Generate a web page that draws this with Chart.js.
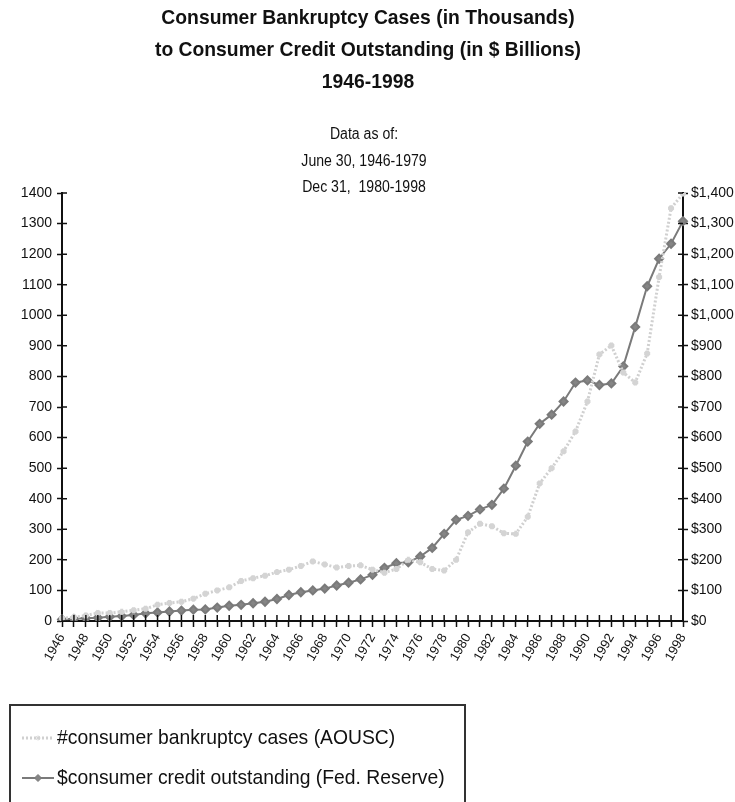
<!DOCTYPE html>
<html>
<head>
<meta charset="utf-8">
<script src="https://cdn.jsdelivr.net/npm/chart.js@4.4.1/dist/chart.umd.min.js"></script>
<style>
  html, body { margin: 0; padding: 0; background: #fff; }
  #wrap { width: 735px; height: 802px; }
</style>
</head>
<body>
<div id="wrap"><canvas id="my-chart" width="735" height="802"></canvas></div>
<script>
const years = [];
for (let y = 1946; y <= 1998; y++) years.push(String(y));

// consumer bankruptcy cases, thousands (AOUSC)
const bankruptcyCases = [
  9, 12, 18, 26, 26, 30, 35, 40, 53, 59,
  63, 73, 89, 100, 110, 131, 140, 148, 160, 168,
  180, 195, 185, 175, 180, 182, 168, 158, 170, 200,
  192, 170, 165, 200, 290, 318, 310, 287, 285, 341,
  450, 500, 555, 620, 718, 872, 901, 813, 780, 875,
  1125, 1350, 1398
];

// consumer credit outstanding, $ billions (Fed. Reserve)
const creditOutstanding = [
  5, 7, 9, 11, 14, 16, 20, 25, 28, 31,
  34, 37, 38, 44, 50, 53, 58, 63, 72, 85,
  94, 100, 106, 116, 125, 136, 151, 174, 189, 192,
  211, 239, 285, 331, 344, 365, 380, 433, 508, 587,
  645, 675, 718, 780, 787, 772, 777, 833, 962, 1095,
  1185, 1234, 1308
];

const titleLines = [
  "Consumer Bankruptcy Cases (in Thousands)",
  "to Consumer Credit Outstanding (in $ Billions)",
  "1946-1998"
];
const noteLines = ["Data as of:", "June 30, 1946-1979", "Dec 31,  1980-1998"];

const FONT = "'Liberation Sans', Arial, sans-serif";

// draw text squeezed horizontally (narrow face look)
function narrowText(ctx, text, x, y, sx) {
  ctx.save();
  ctx.translate(x, y);
  ctx.scale(sx, 1);
  ctx.fillText(text, 0, 0);
  ctx.restore();
}

const headerText = {
  id: "headerText",
  afterDraw(chart) {
    const ctx = chart.ctx;
    ctx.save();
    ctx.fillStyle = "#111";
    ctx.textAlign = "center";
    ctx.textBaseline = "middle";
    ctx.font = "bold 21px " + FONT;
    [18, 50, 82].forEach((y, i) => narrowText(ctx, titleLines[i], 368, y, 0.92));
    ctx.font = "16px " + FONT;
    [135, 162, 188].forEach((y, i) => narrowText(ctx, noteLines[i], 364, y, 0.88));
    ctx.restore();
  }
};

// inward half of the crossing tick marks
const crossTicks = {
  id: "crossTicks",
  afterDatasetsDraw(chart) {
    const ctx = chart.ctx;
    const a = chart.chartArea;
    ctx.save();
    ctx.strokeStyle = "#111";
    ctx.lineWidth = 1.5;
    ctx.beginPath();
    const x = chart.scales.x;
    x.ticks.forEach((t, i) => {
      const px = x.getPixelForTick(i);
      ctx.moveTo(px, a.bottom - 6);
      ctx.lineTo(px, a.bottom);
    });
    ["y", "y1"].forEach(id => {
      const s = chart.scales[id];
      s.ticks.forEach((t, i) => {
        const py = s.getPixelForTick(i);
        if (id === "y") { ctx.moveTo(a.left, py); ctx.lineTo(a.left + 5, py); }
        else { ctx.moveTo(a.right - 5, py); ctx.lineTo(a.right, py); }
      });
    });
    ctx.stroke();
    ctx.restore();
  }
};

const boxLegend = {
  id: "boxLegend",
  afterDraw(chart) {
    const ctx = chart.ctx;
    ctx.save();
    ctx.strokeStyle = "#333";
    ctx.lineWidth = 2;
    ctx.strokeRect(10, 705, 455, 110);
    ctx.font = "21px " + FONT;
    ctx.textBaseline = "middle";
    const rows = [738, 778];
    chart.data.datasets.forEach((ds, i) => {
      const y = rows[i];
      ctx.save();
      ctx.strokeStyle = ds.borderColor;
      ctx.lineWidth = ds.borderWidth;
      ctx.setLineDash(ds.borderDash || []);
      ctx.beginPath();
      ctx.moveTo(22, y);
      ctx.lineTo(54, y);
      ctx.stroke();
      ctx.restore();
      ctx.save();
      ctx.strokeStyle = ds.pointBorderColor;
      ctx.fillStyle = ds.pointBackgroundColor;
      ctx.lineWidth = 1;
      Chart.helpers.drawPoint(ctx, {
        pointStyle: ds.pointStyle,
        radius: ds.pointRadius - 0.5,
        borderWidth: 1
      }, 38, y);
      ctx.restore();
      ctx.fillStyle = "#111";
      narrowText(ctx, ds.label, 57, y, 0.92);
    });
    ctx.restore();
  }
};

const config = {
  type: "line",
  data: {
    labels: years,
    datasets: [
      {
        label: "#consumer bankruptcy cases (AOUSC)",
        data: bankruptcyCases,
        yAxisID: "y",
        borderColor: "#d0d0d0",
        borderWidth: 3,
        borderDash: [2, 2],
        pointStyle: "star",
        pointRadius: 3,
        pointBorderColor: "#d4d4d4",
        pointBackgroundColor: "#d4d4d4",
        tension: 0,
      },
      {
        label: "$consumer credit outstanding (Fed. Reserve)",
        data: creditOutstanding,
        yAxisID: "y1",
        borderColor: "#7a7a7a",
        borderWidth: 2,
        pointStyle: "rectRot",
        pointRadius: 4,
        pointBorderColor: "#7a7a7a",
        pointBackgroundColor: "#858585",
        tension: 0,
      },
    ],
  },
  options: {
    responsive: false,
    animation: false,
    layout: {
      padding: { top: 193, bottom: 101, left: 0, right: 0 },
    },
    plugins: {
      legend: { display: false },
      title: { display: false },
      tooltip: { enabled: false },
    },
    scales: {
      x: {
        offset: false,
        afterFit(scale) { scale.height = 80; },
        grid: {
          drawOnChartArea: false,
          color: "#111",
          tickLength: 6,
          tickWidth: 1.5,
        },
        border: { color: "#111", width: 2 },
        ticks: {
          autoSkip: false,
          maxRotation: 60,
          minRotation: 60,
          padding: 4,
          color: "#111",
          font: { family: FONT, size: 13 },
          callback(v, i) { return i % 2 === 0 ? years[i] : ""; },
        },
      },
      y: {
        position: "left",
        min: 0,
        max: 1400,
        afterFit(scale) { scale.width = 62; },
        grid: {
          drawOnChartArea: false,
          color: "#111",
          tickLength: 5,
          tickWidth: 1.5,
        },
        border: { color: "#111", width: 2 },
        ticks: {
          stepSize: 100,
          padding: 5,
          color: "#111",
          font: { family: FONT, size: 14 },
          callback(v) { return String(v); },
        },
      },
      y1: {
        position: "right",
        min: 0,
        max: 1400,
        afterFit(scale) { scale.width = 52; },
        grid: {
          drawOnChartArea: false,
          color: "#111",
          tickLength: 5,
          tickWidth: 1.5,
        },
        border: { color: "#111", width: 2 },
        ticks: {
          stepSize: 100,
          padding: 3,
          color: "#111",
          font: { family: FONT, size: 14 },
          callback(v) { return "$" + v.toLocaleString("en-US"); },
        },
      },
    },
  },
  plugins: [headerText, crossTicks, boxLegend],
};

const myChart = new Chart(document.getElementById("my-chart"), config);
</script>
</body>
</html>
